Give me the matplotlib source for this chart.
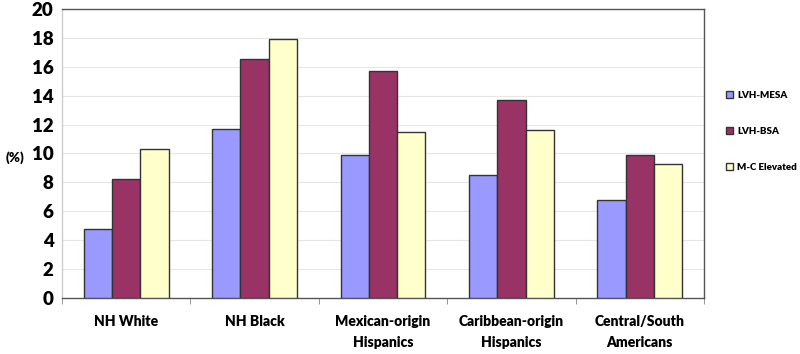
import numpy as np
import matplotlib
matplotlib.use('Agg')
from matplotlib import pyplot as plt

# data
groups = ['NH White', 'NH Black', 'Mexican-origin\nHispanics',
          'Caribbean-origin\nHispanics', 'Central/South\nAmericans']
lvh_mesa = [4.8, 11.7, 9.9, 8.5, 6.8]
lvh_bsa = [8.2, 16.5, 15.7, 13.7, 9.9]
mc_elevated = [10.3, 17.9, 11.5, 11.6, 9.3]
series_names = ['LVH-MESA', 'LVH-BSA', 'M-C Elevated']
colors = ['#9999FF', '#993366', '#FFFFCC']

plt.rcParams['font.family'] = ['Lato', 'DejaVu Sans']
plt.rcParams['font.weight'] = 'bold'

fig = plt.figure(figsize=(8, 3.54), dpi=100)
ax = fig.add_axes([0.0775, 0.158, 0.8025, 0.817])

x = np.arange(len(groups))
w = 0.22
for i, vals in enumerate([lvh_mesa, lvh_bsa, mc_elevated]):
    ax.bar(x + (i - 1) * w, vals, w, color=colors[i], edgecolor='#333333',
           linewidth=1.0, label=series_names[i], zorder=3)

ax.set_xlim(-0.5, len(groups) - 0.5)
ax.set_ylim(0, 20)
ax.set_yticks(range(0, 21, 2))
ax.yaxis.grid(True, color='#e6e6e6', linewidth=0.8, zorder=0)
ax.set_xticks(x)
ax.set_xticklabels(groups, fontsize=10, fontweight='heavy', linespacing=1.75)
ax.set_xticks(np.arange(-0.5, len(groups), 1), minor=True)
ax.tick_params(axis='x', which='major', length=0, pad=12)
ax.tick_params(axis='x', which='minor', length=4, color='#888888')
ax.tick_params(axis='y', length=0, labelsize=13.5, pad=6)
for lbl in ax.get_yticklabels():
    lbl.set_fontweight('heavy')

for s in ax.spines.values():
    s.set_color('#555555')
    s.set_linewidth(1.0)
ax.spines['left'].set_color('#cccccc')

fig.text(0.007, 0.555, '(%)', fontsize=9.5, fontweight='heavy', va='center')

leg = fig.legend(loc='upper left', bbox_to_anchor=(0.903, 0.755), frameon=False,
                 fontsize=7, handlelength=0.7, handleheight=0.7,
                 labelspacing=2.8, handletextpad=0.4, borderaxespad=0)
for t in leg.get_texts():
    t.set_fontweight('heavy')

fig.savefig('out.png', dpi=100)
